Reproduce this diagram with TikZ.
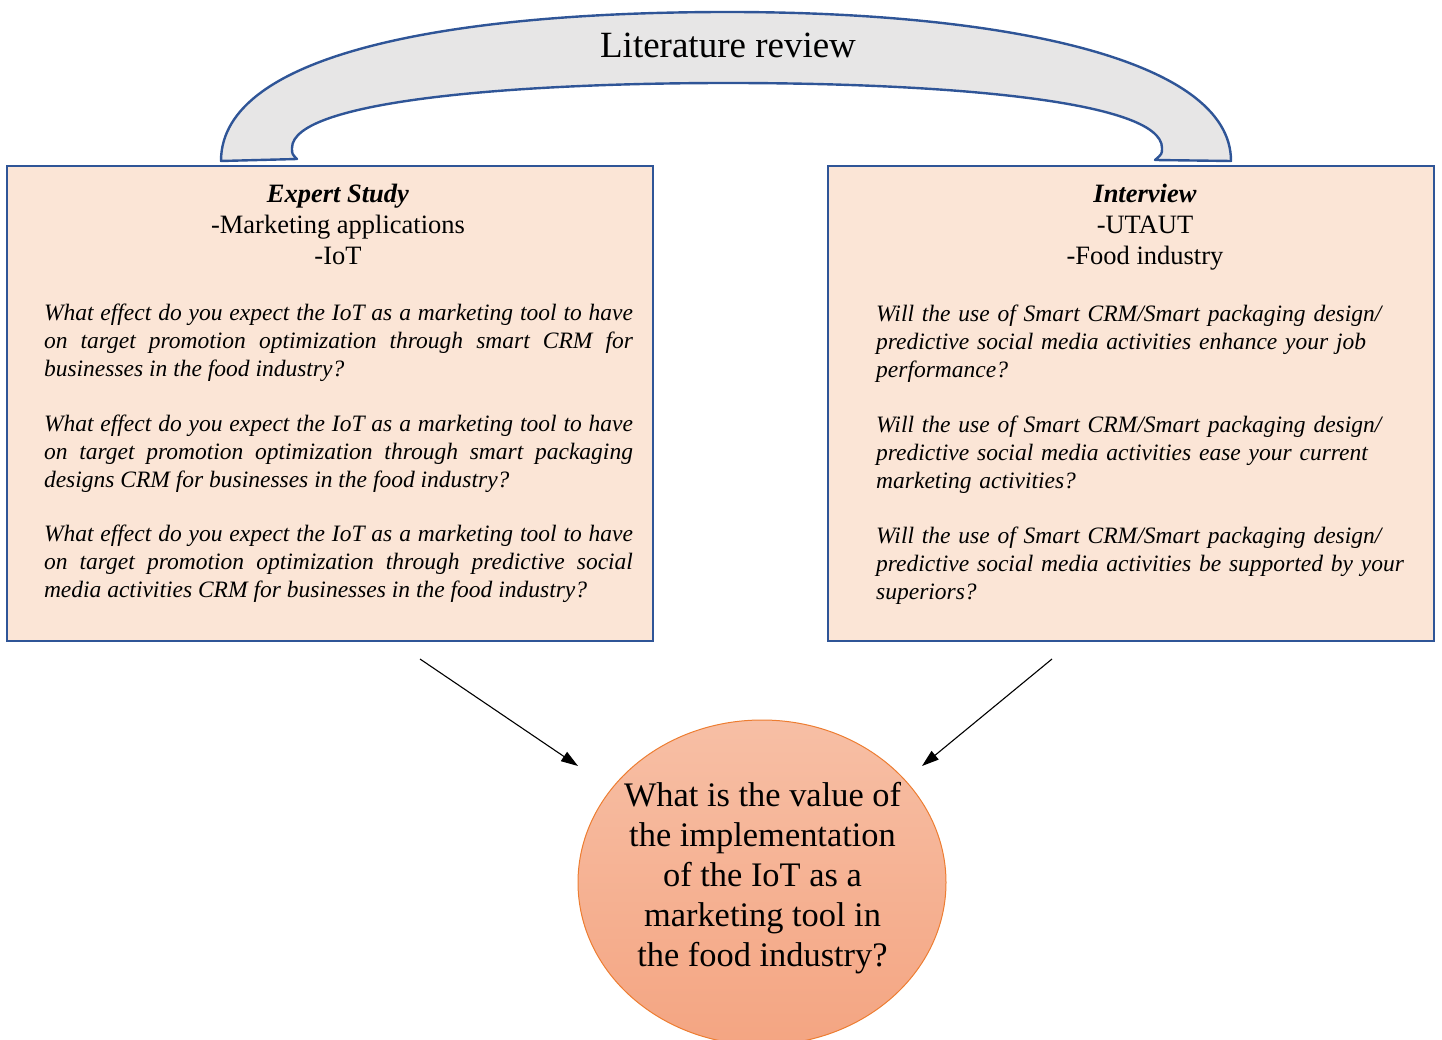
\documentclass[tikz,border=0pt]{standalone}
\usepackage{fontspec}
\setmainfont{Liberation Serif}
\usetikzlibrary{arrows.meta,shapes.geometric}
\definecolor{boxblue}{HTML}{2F5597}
\definecolor{boxfill}{HTML}{FBE5D6}
\definecolor{arcfill}{HTML}{E7E6E6}
\definecolor{circline}{HTML}{ED7D31}
\definecolor{circtop}{HTML}{F7BFA5}
\definecolor{circbot}{HTML}{F4A582}
\tikzset{
  panel/.style={draw=boxblue, line width=2pt, fill=boxfill, inner sep=0pt},
  arcband/.style={draw=boxblue, line width=2.4pt, fill=arcfill, line join=round},
  headtext/.style={align=center, inner sep=0pt, font=\fontsize{26.5}{31}\selectfont},
  qleft/.style={text width=589pt, align=justify, inner sep=0pt, font=\fontsize{23.5}{28}\selectfont\itshape},
  qright/.style={text width=540pt, align=left, inner sep=0pt, font=\fontsize{23.5}{28}\selectfont\itshape},
  goal/.style={ellipse, draw=circline, line width=1pt, top color=circtop, bottom color=circbot,
    minimum width=368pt, minimum height=325pt, inner sep=0pt},
  goaltext/.style={align=center, inner sep=0pt, font=\fontsize{34.4}{40}\selectfont},
  flow/.style={line width=1.1pt, -{Triangle[length=17pt,width=11pt]}}
}
\begin{document}
\begin{tikzpicture}[x=1pt,y=-1pt]
\useasboundingbox (0,0) rectangle (1442,1040);

% boxes
\node[panel, minimum width=646pt, minimum height=475pt] (left) at (330,403.5) {};
\node[panel, minimum width=606pt, minimum height=475pt] (right) at (1131,403.5) {};

% literature review band
\draw[arcband] (221,161) .. controls (221,52) and (456,12) .. (728,12)
  .. controls (1000,12) and (1231,58) .. (1231,161)
  -- (1155,160) .. controls (1162,154) .. (1162,148)
  .. controls (1162,100) and (940,83) .. (728,83)
  .. controls (520,83) and (292,100) .. (292,148)
  .. controls (292,154) .. (297,159) -- cycle;
\node[font=\fontsize{37}{44}\selectfont, inner sep=0pt] (title) at (728,45) {Literature review};

% headers
\node[headtext] (lhead) at (338,224) {\textbf{\textit{Expert Study}}\\-Marketing applications\\-IoT};
\node[headtext] (rhead) at (1145,227.5) {\textbf{\textit{Interview}}\\-UTAUT\\-Food industry};

% left questions
\node[qleft] (lq1) at (338.5,343) {What effect do you expect the IoT as a marketing tool to have\linebreak on target promotion optimization through smart CRM for\linebreak businesses in the food industry?};
\node[qleft] (lq2) at (338.5,454) {What effect do you expect the IoT as a marketing tool to have\linebreak on target promotion optimization through smart packaging\linebreak designs CRM for businesses in the food industry?};
\node[qleft] (lq3) at (338.5,564) {What effect do you expect the IoT as a marketing tool to have\linebreak on target promotion optimization through predictive social\linebreak media activities CRM for businesses in the food industry?};

% right questions
\node[qright, anchor=west] (rq1) at (876,344) {Will the use of Smart CRM/Smart packaging design/\\predictive social media activities enhance your job\\performance?};
\node[qright, anchor=west] (rq2) at (876,455) {Will the use of Smart CRM/Smart packaging design/\\predictive social media activities ease your current\\marketing activities?};
\node[qright, anchor=west] (rq3) at (876,565.5) {Will the use of Smart CRM/Smart packaging design/\\predictive social media activities be supported by your\\superiors?};

% goal
\node[goal] (goal) at (762,882.5) {};
\node[goaltext] (goaltxt) at (762.5,878) {What is the value of\\the implementation\\of the IoT as a\\marketing tool in\\the food industry?};

% arrows
\coordinate (la) at (420,659);
\coordinate (lb) at (578,766);
\coordinate (ra) at (1052,659);
\coordinate (rb) at (922,766);
\draw[flow] (la) -- (lb);
\draw[flow] (ra) -- (rb);
\end{tikzpicture}
\end{document}
